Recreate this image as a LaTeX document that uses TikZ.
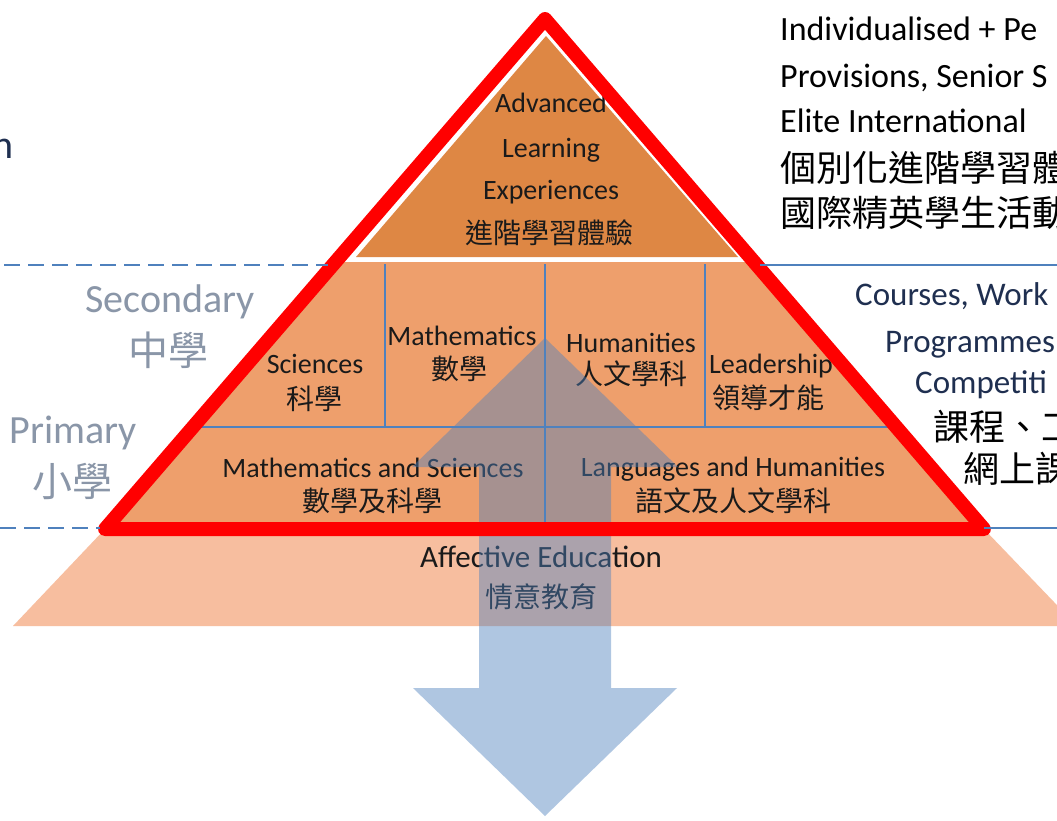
\documentclass[tikz,border=0pt]{standalone}
\usepackage{fontspec}
\setmainfont{Carlito}
\newfontfamily\cjk{Noto Sans CJK TC}
\definecolor{pyrred}{HTML}{FF0000}
\definecolor{capfill}{HTML}{DE8744}
\definecolor{bandfill}{HTML}{EE9F6C}
\definecolor{afffill}{HTML}{F7BE9F}
\definecolor{gridblue}{HTML}{4F81BD}
\definecolor{arrowblue}{HTML}{4F81BD}
\definecolor{pyrtext}{HTML}{1A1A1A}
\definecolor{leveltext}{HTML}{8A96A8}
\definecolor{navytext}{HTML}{1F2F50}
\begin{document}
\begin{tikzpicture}[x=1pt,y=-1pt,
  gridline/.style={draw=gridblue, line width=1.3pt},
  levelline/.style={draw=gridblue, line width=1.8pt},
  leveldash/.style={levelline, dash pattern=on 16pt off 8pt},
  en/.style={inner sep=0pt, text=pyrtext, font=\fontsize{28}{32}\selectfont, anchor=base},
  zh/.style={inner sep=0pt, text=pyrtext, font=\cjk\fontsize{28}{32}\selectfont},
  lvlen/.style={inner sep=0pt, text=leveltext, font=\fontsize{40}{46}\selectfont, anchor=base},
  lvlzh/.style={inner sep=0pt, text=leveltext, font=\cjk\fontsize{40}{46}\selectfont},
  sideen/.style={inner sep=0pt, text=black, font=\fontsize{34}{40}\selectfont, anchor=base west},
  midsideen/.style={sideen, text=navytext, font=\fontsize{33}{40}\selectfont},
  sidezh/.style={inner sep=0pt, text=black, font=\cjk\fontsize{36}{40}\selectfont, anchor=west},
]
\useasboundingbox (0,0) rectangle (1057,820);
\fill[white] (0,0) rectangle (1057,820);
\clip (0,0) rectangle (1057,820);

% affective education base
\fill[afffill] (105,529) -- (984,529) -- (1077,626) -- (13,626) -- cycle;
% lower band
\fill[bandfill] (335,262) -- (754,262) -- (984,529) -- (105,529) -- cycle;
% top cap
\fill[capfill] (546,36) -- (738,257) -- (356,257) -- cycle;

% grid lines
\draw[gridline] (193,427) -- (896,427);
\draw[gridline] (385,264) -- (385,427);
\draw[gridline] (545,264) -- (545,529);
\draw[gridline] (705,264) -- (705,427);

% pyramid texts
\node[en] (adv1) at (551,112) {Advanced};
\node[en] (adv2) at (551,157) {Learning};
\node[en] (adv3) at (551,199) {Experiences};
\node[zh] (advzh) at (549,233) {進階學習體驗};
\node[en] (sci) at (315,373) {Sciences};
\node[zh] (scizh) at (314,399) {科學};
\node[en] (math) at (462,345) {Mathematics};
\node[zh] (mathzh) at (459,369) {數學};
\node[en] (hum) at (631,352) {Humanities};
\node[zh] (humzh) at (631,374) {人文學科};
\node[en] (lead) at (771,373) {Leadership};
\node[zh] (leadzh) at (768,398) {領導才能};
\node[en] (ms) at (373,477) {Mathematics and Sciences};
\node[zh] (mszh) at (372,501) {數學及科學};
\node[en] (lh) at (733,476) {Languages and Humanities};
\node[zh] (lhzh) at (733,501) {語文及人文學科};
\node[en, font=\fontsize{31}{36}\selectfont] (aff) at (541,567) {Affective Education};
\node[zh] (affzh) at (541,597) {情意教育};

% double arrow
\fill[arrowblue, fill opacity=0.45] (545,338) -- (678,467) -- (611,467) -- (611,688) -- (677,688) -- (545,816) -- (413,688) -- (479,688) -- (479,467) -- (412,467) -- cycle;

% red outline
\draw[pyrred, line width=14pt, line join=round] (545,19) -- (984,529) -- (105,529) -- cycle;

% level lines
\draw[leveldash] (4,265) -- (328,265);
\draw[levelline] (760,265) -- (1057,265);
\draw[leveldash] (0,528) -- (100,528);
\draw[levelline] (984,528) -- (1057,528);

% level labels
\node[lvlen] (sec) at (170,312) {Secondary};
\node[lvlzh] (seczh) at (168,350) {中學};
\node[lvlen] (pri) at (73,443) {Primary};
\node[lvlzh] (prizh) at (72,481) {小學};
\node[inner sep=0pt, text=navytext, font=\fontsize{40}{46}\selectfont, anchor=base east] (cut) at (14,158) {n};

% right top text
\node[sideen] (ind1) at (780,40) {Individualised + Pe};
\node[sideen] (ind2) at (780,87) {Provisions, Senior S};
\node[sideen] (ind3) at (780,132) {Elite International};
\node[sidezh] (ind4) at (780,168) {個別化進階學習體};
\node[sidezh] (ind5) at (780,213) {國際精英學生活動};

% right middle text
\node[midsideen] (crs1) at (855,305) {Courses, Work};
\node[midsideen] (crs2) at (885,352) {Programmes};
\node[midsideen] (crs3) at (915,393) {Competiti};
\node[sidezh] (crs4) at (933,427) {課程、工};
\node[sidezh] (crs5) at (963,469) {網上課};
\end{tikzpicture}
\end{document}
